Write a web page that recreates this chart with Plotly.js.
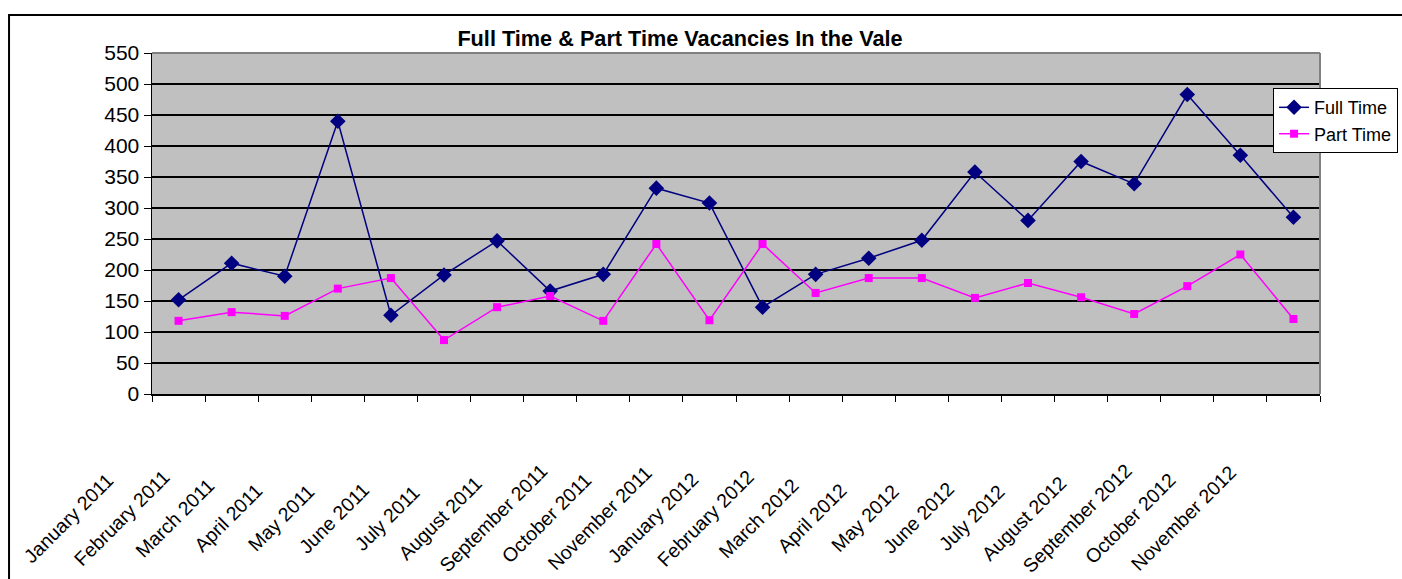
<!DOCTYPE html>
<html>
<head>
<meta charset="utf-8">
<script src="https://cdn.plot.ly/plotly-3.0.1.min.js"></script>
<style>html,body{margin:0;padding:0;background:#fff;}#chart{width:1402px;height:579px;}</style>
</head>
<body>
<div id="chart"></div>
<script>
const months = ["January 2011","February 2011","March 2011","April 2011","May 2011","June 2011","July 2011","August 2011","September 2011","October 2011","November 2011","January 2012","February 2012","March 2012","April 2012","May 2012","June 2012","July 2012","August 2012","September 2012","October 2012","November 2012"];
const fullTime = [152,211,190,440,127,192,247,166,193,332,308,140,193,219,248,358,280,375,339,483,385,285];
const partTime = [118,132,126,170,187,87,140,158,118,242,119,242,163,187,187,155,179,156,129,174,225,121];
const yTicks = [0,50,100,150,200,250,300,350,400,450,500,550];

const FONT = "Arial, 'Liberation Sans', sans-serif";

const traces = [
  {x: months, y: fullTime, name: "Full Time", type: "scatter", mode: "lines+markers",
   line: {color: "#000080", width: 1.5}, marker: {symbol: "diamond", size: 12, color: "#000080"}},
  {x: months, y: partTime, name: "Part Time", type: "scatter", mode: "lines+markers",
   line: {color: "#FF00FF", width: 1.5}, marker: {symbol: "square", size: 8, color: "#FF00FF"}}
];

const annotations = months.map(m => ({
  x: m, xref: "x", y: 0, yref: "paper", xshift: -110, yshift: -124,
  text: m, textangle: -45, showarrow: false, xanchor: "center", yanchor: "middle",
  font: {family: FONT, size: 19.5, color: "#000"}
}));

const layout = {
  width: 1402, height: 579,
  margin: {l: 152, r: 82, t: 53, b: 185, autoexpand: false},
  paper_bgcolor: "#ffffff",
  plot_bgcolor: "#C0C0C0",
  title: {text: "<b>Full Time & Part Time Vacancies In the Vale</b>", font: {family: FONT, size: 21.7, color: "#000"},
          x: 0.485, xref: "container", xanchor: "center", y: 0.933, yref: "container", yanchor: "middle"},
  xaxis: {type: "category", range: [-0.5, 21.5], showticklabels: false, showgrid: false,
          ticks: "outside", tickson: "boundaries", ticklen: 6, tickcolor: "#000", tickwidth: 1,
          showline: true, linecolor: "#000", linewidth: 1.5, zeroline: false, fixedrange: true, automargin: false},
  yaxis: {range: [0, 550], tickmode: "array", tickvals: yTicks, ticktext: yTicks.map(String),
          showgrid: true, gridcolor: "#000", gridwidth: 1.3, ticks: "outside", ticklen: 7, tickcolor: "#000",
          showline: true, linecolor: "#000", linewidth: 1.5, zeroline: false, automargin: false,
          tickfont: {family: FONT, size: 21, color: "#000"}, fixedrange: true},
  showlegend: true,
  legend: {x: 0.9598, y: 0.897, xanchor: "left", yanchor: "top", bgcolor: "#fff", bordercolor: "#000", borderwidth: 1,
           font: {family: FONT, size: 18, color: "#000"}, tracegroupgap: 0, itemwidth: 30},
  annotations: annotations,
  shapes: [
    {type: "line", xref: "paper", yref: "paper", x0: 0, x1: 1, y0: 1, y1: 1, line: {color: "#808080", width: 2}, layer: "above"},
    {type: "line", xref: "paper", yref: "paper", x0: 1, x1: 1, y0: 0, y1: 1, line: {color: "#808080", width: 2}, layer: "above"},
    {type: "rect", xref: "paper", yref: "paper", x0: -0.1224, x1: 1.3, y0: -0.8, y1: 1.1114, line: {color: "#000", width: 2}, fillcolor: "rgba(0,0,0,0)", layer: "below"}
  ]
};

Plotly.newPlot("chart", traces, layout, {displayModeBar: false, staticPlot: true});
</script>
</body>
</html>
